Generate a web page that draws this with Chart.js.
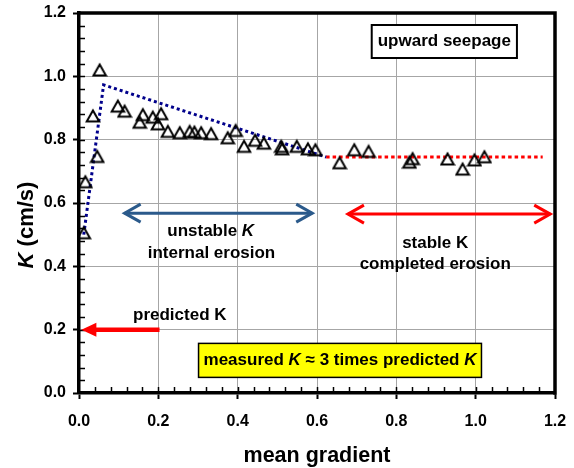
<!DOCTYPE html>
<html><head><meta charset="utf-8">
<script src="https://cdn.jsdelivr.net/npm/chart.js@4.4.1/dist/chart.umd.min.js"></script>
<style>html,body{margin:0;padding:0;background:#fff;}#wrap{width:574px;height:468px;}</style>
</head><body><div id="wrap"><canvas id="c" width="574" height="468"></canvas></div>
<script>
// ---- data ----
const meanGradient = [0.012,0.016,0.046,0.035,0.052,0.098,0.115,0.161,0.153,0.186,0.207,0.199,0.224,0.254,0.279,0.291,0.308,0.333,0.375,0.395,0.416,0.444,0.466,0.510,0.512,0.549,0.577,0.596,0.657,0.694,0.730,0.833,0.841,0.929,0.967,0.997,1.022];
const permeabilityK = [0.506,0.667,0.747,0.875,1.020,0.906,0.890,0.879,0.855,0.871,0.882,0.850,0.826,0.822,0.826,0.824,0.822,0.819,0.806,0.829,0.779,0.798,0.789,0.779,0.771,0.779,0.771,0.768,0.727,0.768,0.763,0.729,0.740,0.739,0.707,0.736,0.746];
const unstableTrendX = [0.012, 0.062, 0.623];
const unstableTrendK = [0.500, 0.973, 0.745];
const stableTrendX = [0.623, 1.169];
const stableTrendK = [0.745, 0.745];
const xTickValues = [0.0,0.2,0.4,0.6,0.8,1.0,1.2];
const yTickValues = [0.0,0.2,0.4,0.6,0.8,1.0,1.2];
const predictedK = 0.2;

const FONT = "'Liberation Sans', Arial, sans-serif";
const pts = (xs, ys) => xs.map((x, i) => ({x, y: ys[i]}));

// hollow triangle marker (Excel-like, centred on its bounding box)
const tri = document.createElement('canvas');
tri.width = 16; tri.height = 16;
(function(){
  const g = tri.getContext('2d');
  g.strokeStyle = '#000'; g.lineWidth = 2; g.lineJoin = 'miter';
  g.beginPath(); g.moveTo(8, 2.5); g.lineTo(14.2, 13.5); g.lineTo(1.8, 13.5); g.closePath(); g.stroke();
})();

function richText(ctx, segs, cx, cy, size) {
  let total = 0;
  const w = segs.map(s => { ctx.font = (s.i ? 'italic ' : '') + 'bold ' + size + 'px ' + FONT; const m = ctx.measureText(s.t).width; total += m; return m; });
  let x = cx - total / 2;
  ctx.textAlign = 'left'; ctx.textBaseline = 'middle'; ctx.fillStyle = '#000';
  segs.forEach((s, k) => { ctx.font = (s.i ? 'italic ' : '') + 'bold ' + size + 'px ' + FONT; ctx.fillText(s.t, x, cy); x += w[k]; });
  return total;
}
function chevron(ctx, tx, ty, dir, len, half) {
  ctx.beginPath();
  ctx.moveTo(tx - dir * len, ty - half); ctx.lineTo(tx, ty); ctx.lineTo(tx - dir * len, ty + half);
  ctx.stroke();
}

const decor = {
  id: 'decor',
  afterDatasetsDraw(chart) {
    const ctx = chart.ctx, xs = chart.scales.x, ys = chart.scales.y, a = chart.chartArea;
    const X = v => xs.getPixelForValue(v), Y = v => ys.getPixelForValue(v);
    ctx.save();
    // frame top/right
    ctx.strokeStyle = '#000'; ctx.lineWidth = 3.5; ctx.lineCap = 'square';
    ctx.beginPath(); ctx.moveTo(a.left, a.top); ctx.lineTo(a.right, a.top); ctx.lineTo(a.right, a.bottom); ctx.stroke();
    ctx.lineCap = 'butt';
    // minor ticks (inside)
    ctx.lineWidth = 1.5;
    for (let v = 0.04; v < 1.2; v += 0.04) {
      const px = Math.round(X(v)) + 0.5, py = Math.round(Y(v)) + 0.5;
      ctx.beginPath(); ctx.moveTo(px, a.bottom); ctx.lineTo(px, a.bottom - 6); ctx.stroke();
      ctx.beginPath(); ctx.moveTo(a.left, py); ctx.lineTo(a.left + 6, py); ctx.stroke();
    }
    // blue double arrow (unstable)
    ctx.lineWidth = 3; ctx.strokeStyle = '#2B5A8B'; ctx.lineJoin = 'miter';
    let yy = Y(0.568), x1 = X(0.115), x2 = X(0.588);
    ctx.beginPath(); ctx.moveTo(x1, yy); ctx.lineTo(x2, yy); ctx.stroke();
    chevron(ctx, x1, yy, -1, 16, 9); chevron(ctx, x2, yy, 1, 16, 9);
    // red double arrow (stable)
    ctx.strokeStyle = '#FF0000';
    yy = Y(0.565); x1 = X(0.678); x2 = X(1.188);
    ctx.beginPath(); ctx.moveTo(x1, yy); ctx.lineTo(x2, yy); ctx.stroke();
    chevron(ctx, x1, yy, -1, 16, 9); chevron(ctx, x2, yy, 1, 16, 9);
    // predicted K arrow
    yy = Y(predictedK); x1 = X(0.006); x2 = X(0.203);
    ctx.lineWidth = 4.5; ctx.beginPath(); ctx.moveTo(x2, yy); ctx.lineTo(x1 + 12, yy); ctx.stroke();
    ctx.fillStyle = '#FF0000';
    ctx.beginPath(); ctx.moveTo(x1, yy); ctx.lineTo(x1 + 15, yy - 7); ctx.lineTo(x1 + 15, yy + 7); ctx.closePath(); ctx.fill();
    // labels
    richText(ctx, [{t:'unstable '},{t:'K', i:true}], X(0.332), Y(0.512), 17);
    richText(ctx, [{t:'internal erosion'}], X(0.334), Y(0.442), 17);
    richText(ctx, [{t:'stable K'}], X(0.898), Y(0.474), 17);
    richText(ctx, [{t:'completed erosion'}], X(0.898), Y(0.407), 17);
    richText(ctx, [{t:'predicted K'}], X(0.254), Y(0.246), 17);
    // upward seepage box
    ctx.font = 'bold 17px ' + FONT;
    let cx = X(0.921), cy = Y(1.110), w = ctx.measureText('upward seepage').width + 12;
    ctx.fillStyle = '#fff'; ctx.fillRect(cx - w/2, cy - 16.5, w, 33);
    ctx.strokeStyle = '#000'; ctx.lineWidth = 2; ctx.strokeRect(cx - w/2, cy - 16.5, w, 33);
    richText(ctx, [{t:'upward seepage'}], cx, cy, 17);
    // yellow box
    const segs = [{t:'measured '},{t:'K', i:true},{t:' \u2248 3 times predicted '},{t:'K', i:true}];
    cx = X(0.658); cy = Y(0.103);
    let tw = 0; segs.forEach(s => { ctx.font = (s.i ? 'italic ' : '') + 'bold 17px ' + FONT; tw += ctx.measureText(s.t).width; });
    w = tw + 10;
    ctx.fillStyle = '#FFFF00'; ctx.fillRect(cx - w/2, cy - 17, w, 34);
    ctx.lineWidth = 1.5; ctx.strokeRect(cx - w/2, cy - 17, w, 34);
    richText(ctx, segs, cx, cy, 17);
    // y axis title
    ctx.translate(27, 225); ctx.rotate(-Math.PI / 2);
    richText(ctx, [{t:'K', i:true},{t:' (cm/s)'}], 0, 0, 22);
    ctx.restore();
  }
};

new Chart(document.getElementById('c'), {
  type: 'scatter',
  data: {
    datasets: [
      { label: 'K', data: pts(meanGradient, permeabilityK), pointStyle: tri, pointRadius: 7, showLine: false, order: 0 },
      { label: 'unstable trend', data: pts(unstableTrendX, unstableTrendK), showLine: true, pointRadius: 0,
        borderColor: '#00008B', borderWidth: 3, borderDash: [3, 3], borderCapStyle: 'butt', order: 1 },
      { label: 'stable trend', data: pts(stableTrendX, stableTrendK), showLine: true, pointRadius: 0,
        borderColor: '#FF0000', borderWidth: 3, borderDash: [3.5, 3], borderCapStyle: 'butt', order: 1 }
    ]
  },
  options: {
    responsive: false, animation: false, devicePixelRatio: 1, events: [],
    layout: { padding: { top: 13, right: 19, left: 0, bottom: 0 } },
    plugins: { legend: { display: false }, tooltip: { enabled: false } },
    scales: {
      x: {
        type: 'linear', min: 0, max: 1.2,
        afterBuildTicks: s => { s.ticks = xTickValues.map(v => ({value: v})); },
        afterFit: s => { s.height = 75; s.paddingLeft = 0; s.paddingRight = 0; },
        ticks: { callback: v => v.toFixed(1), color: '#000', font: { family: FONT, size: 16, weight: 'bold' }, padding: 13, maxRotation: 0 },
        grid: { color: c => (c.tick && (c.tick.value === 0 || c.tick.value === 1.2)) ? 'rgba(0,0,0,0)' : '#A6A6A6', lineWidth: 1,
                tickColor: '#000', tickLength: 6, tickWidth: 2 },
        border: { color: '#000', width: 3.5 },
        title: { display: true, text: 'mean gradient', color: '#000', font: { family: FONT, size: 21.5, weight: 'bold', lineHeight: 1.1 }, padding: { top: 0, bottom: 0 } }
      },
      y: {
        type: 'linear', min: 0, max: 1.2,
        afterBuildTicks: s => { s.ticks = yTickValues.map(v => ({value: v})); },
        afterFit: s => { s.width = 79; s.paddingTop = 0; s.paddingBottom = 0; },
        ticks: { callback: v => v.toFixed(1), color: '#000', font: { family: FONT, size: 16, weight: 'bold' }, padding: 7 },
        grid: { color: c => (c.tick && (c.tick.value === 0 || c.tick.value === 1.2)) ? 'rgba(0,0,0,0)' : '#A6A6A6', lineWidth: 1,
                tickColor: '#000', tickLength: 6, tickWidth: 2 },
        border: { color: '#000', width: 3.5 },
        title: { display: false }
      }
    }
  },
  plugins: [decor]
});
</script></body></html>
